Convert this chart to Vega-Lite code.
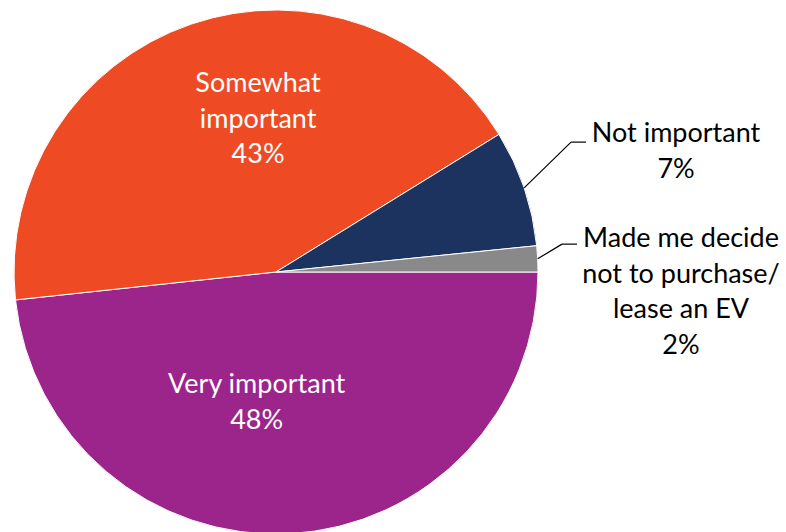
{
  "$schema": "https://vega.github.io/schema/vega-lite/v6.json",
  "autosize": {"type": "none"},
  "width": 552,
  "height": 520,
  "padding": {"left": 0, "top": 12, "right": 234, "bottom": 0},
  "background": "white",
  "config": {"view": {"stroke": null}},
  "data": {
    "values": [
      {"category": "Very important", "value": 48.3},
      {"category": "Somewhat important", "value": 42.9},
      {"category": "Not important", "value": 7.2},
      {"category": "Made me decide not to purchase/lease an EV", "value": 1.6}
    ]
  },
  "layer": [
    {
      "mark": {"type": "arc", "outerRadius": 262, "stroke": "white", "strokeWidth": 1},
      "encoding": {
        "theta": {"field": "value", "type": "quantitative", "stack": true, "scale": {"range": [1.5707963, 7.8539816]}},
        "color": {
          "field": "category",
          "type": "nominal",
          "scale": {
            "domain": ["Very important", "Somewhat important", "Not important", "Made me decide not to purchase/lease an EV"],
            "range": ["#9C258C", "#EE4B24", "#1C335F", "#898989"]
          },
          "legend": null
        },
        "order": {"field": "category", "type": "ordinal", "sort": "descending"}
      }
    },
    {
      "transform": [
        {"calculate": "datum.category === 'Somewhat important' ? replace(datum.category, ' ', '\\n') + '\\n' + round(datum.value) + '%' : ''", "as": "lab"}
      ],
      "mark": {"type": "text", "radius": 156, "dx": 32.6, "dy": -32.2, "align": "center", "baseline": "alphabetic", "lineBreak": "\n", "lineHeight": 35.5, "font": "Lato", "fontSize": 27, "color": "white"},
      "encoding": {
        "theta": {"field": "value", "type": "quantitative", "stack": true},
        "order": {"field": "category", "type": "ordinal", "sort": "descending"},
        "text": {"field": "lab", "type": "nominal"}
      }
    },
    {
      "transform": [
        {"calculate": "datum.category === 'Very important' ? datum.category + '\\n' + round(datum.value) + '%' : ''", "as": "lab"}
      ],
      "mark": {"type": "text", "radius": 128, "dx": -26.2, "dy": -6.8, "align": "center", "baseline": "alphabetic", "lineBreak": "\n", "lineHeight": 35.5, "font": "Lato", "fontSize": 27, "color": "white"},
      "encoding": {
        "theta": {"field": "value", "type": "quantitative", "stack": true},
        "order": {"field": "category", "type": "ordinal", "sort": "descending"},
        "text": {"field": "lab", "type": "nominal"}
      }
    },
    {
      "transform": [
        {"calculate": "datum.category === 'Not important' ? datum.category + '\\n' + round(datum.value) + '%' : ''", "as": "lab"}
      ],
      "mark": {"type": "text", "radius": 330, "dx": 87.5, "dy": -23.9, "align": "center", "baseline": "alphabetic", "lineBreak": "\n", "lineHeight": 35.5, "font": "Lato", "fontSize": 27, "color": "black"},
      "encoding": {
        "theta": {"field": "value", "type": "quantitative", "stack": true},
        "order": {"field": "category", "type": "ordinal", "sort": "descending"},
        "text": {"field": "lab", "type": "nominal"}
      }
    },
    {
      "transform": [
        {"calculate": "datum.category === 'Made me decide not to purchase/lease an EV' ? replace(replace(datum.category, 'decide ', 'decide\\n'), 'purchase/', 'purchase/\\n') + '\\n' + round(datum.value) + '%' : ''", "as": "lab"}
      ],
      "mark": {"type": "text", "radius": 330, "dx": 75.4, "dy": -8.3, "align": "center", "baseline": "alphabetic", "lineBreak": "\n", "lineHeight": 35.5, "font": "Lato", "fontSize": 27, "color": "black"},
      "encoding": {
        "theta": {"field": "value", "type": "quantitative", "stack": true},
        "order": {"field": "category", "type": "ordinal", "sort": "descending"},
        "text": {"field": "lab", "type": "nominal"}
      }
    },
    {
      "transform": [
        {"joinaggregate": [{"op": "sum", "field": "value", "as": "total"}]},
        {"window": [{"op": "sum", "field": "value", "as": "cum"}], "sort": [{"field": "category", "order": "descending"}], "frame": [null, 0]},
        {"calculate": "PI / 2 + 2 * PI * (datum.cum - datum.value / 2) / datum.total", "as": "mid"},
        {"filter": "datum.category === 'Not important' || datum.category === 'Made me decide not to purchase/lease an EV'"},
        {"calculate": "276 + 262 * sin(datum.mid)", "as": "sx"},
        {"calculate": "260 - 262 * cos(datum.mid)", "as": "sy"},
        {"calculate": "datum.sx + (datum.category === 'Not important' ? 46.9 : 24.3)", "as": "ex"},
        {"calculate": "datum.sy + (datum.category === 'Not important' ? -45.8 : -14.7)", "as": "ey"},
        {"calculate": "datum.ex + 15", "as": "hx"}
      ],
      "layer": [
        {
          "mark": {"type": "rule", "color": "black", "strokeWidth": 1.2},
          "encoding": {
            "x": {"field": "sx", "type": "quantitative", "scale": {"domain": [0, 552], "nice": false, "zero": false}, "axis": null},
            "x2": {"field": "ex"},
            "y": {"field": "sy", "type": "quantitative", "scale": {"domain": [0, 520], "nice": false, "zero": false, "reverse": true}, "axis": null},
            "y2": {"field": "ey"}
          }
        },
        {
          "mark": {"type": "rule", "color": "black", "strokeWidth": 1.2},
          "encoding": {
            "x": {"field": "ex", "type": "quantitative", "scale": {"domain": [0, 552], "nice": false, "zero": false}, "axis": null},
            "x2": {"field": "hx"},
            "y": {"field": "ey", "type": "quantitative", "scale": {"domain": [0, 520], "nice": false, "zero": false, "reverse": true}, "axis": null}
          }
        }
      ]
    }
  ]
}
